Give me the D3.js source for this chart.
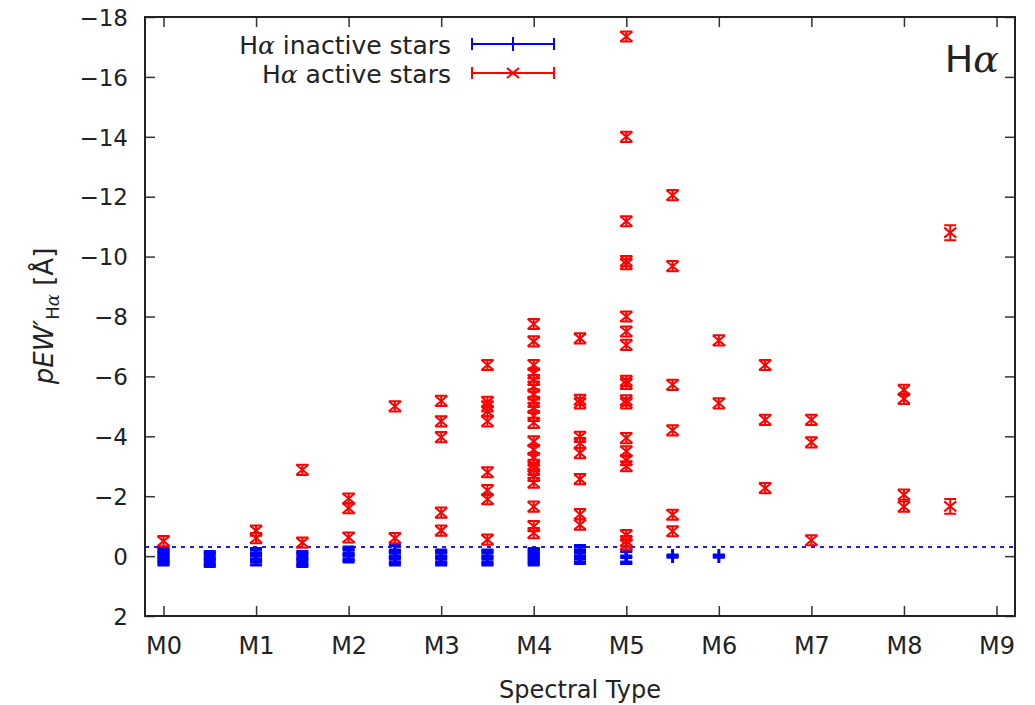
<!DOCTYPE html>
<html>
<head>
<meta charset="utf-8">
<script src="https://cdn.jsdelivr.net/npm/d3@7"></script>
<style>
	body { margin: 0; background: #fff; }
	text { font-family: "DejaVu Sans", sans-serif; fill: #222; }
	.greek { font-family: "DejaVu Serif", serif; font-style: italic; }
</style>
</head>
<body>
<svg id="chart" width="1035" height="705"></svg>
<script>
// spectral type axis labels (index = subtype number)
var spectralTicks = ["M0", "M1", "M2", "M3", "M4", "M5", "M6", "M7", "M8", "M9"];
var yTickValues = [-18, -16, -14, -12, -10, -8, -6, -4, -2, 0, 2];

// H-alpha active stars: one column per spectral subtype
var activeSpT = [0, 1, 1.5, 2, 2.5, 3, 3.5, 4, 4.5, 5, 5.5, 6, 6.5, 7, 8, 8.5];
var activeEW = [
	[-0.5],
	[-0.85, -0.6],
	[-2.88, -0.45],
	[-1.92, -1.6, -0.62],
	[-5.0, -0.6],
	[-5.18, -4.5, -3.97, -1.45, -0.85],
	[-6.38, -5.15, -5.0, -4.83, -4.5, -2.8, -2.2, -1.9, -0.55],
	[-7.75, -7.17, -6.38, -6.1, -5.88, -5.66, -5.4, -5.15, -4.95, -4.68, -4.45,
		-3.83, -3.55, -3.28, -3.05, -2.88, -2.68, -2.45, -1.65, -1.0, -0.77],
	[-7.27, -5.22, -5.1, -3.98, -3.77, -3.44, -2.57, -1.4, -1.05],
	[-17.35, -14.0, -11.18, -9.85, -9.75, -8.0, -7.5, -7.05, -5.85, -5.75, -5.2, -5.1,
		-3.94, -3.5, -3.2, -3.0, -0.7, -0.5, -0.38],
	[-12.05, -9.68, -5.72, -4.2, -1.38, -0.83],
	[-7.2, -5.1],
	[-6.38, -4.55, -2.27],
	[-4.55, -3.8, -0.53],
	[-5.55, -5.25, -2.05, -1.65],
	[-10.8, -1.66]
];
var activeErr = [0.17, 0.17, 0.17, 0.17, 0.17, 0.17, 0.17, 0.17, 0.17, 0.17, 0.17, 0.17, 0.17, 0.17, 0.17, 0.25];

// H-alpha inactive stars
var inactiveSpT = [0, 0.5, 1, 1.5, 2, 2.5, 3, 3.5, 4, 4.5, 5, 5.5, 6];
var inactiveEW = [
	[0.05, -0.05, 0.1, 0.0],
	[0.1, 0.05, 0.15],
	[0.0, -0.05, 0.1],
	[0.1, 0.05, 0.15],
	[-0.05, -0.1, 0.0],
	[-0.15, 0.0, 0.1, 0.05],
	[0.05, 0.1, 0.0],
	[0.0, 0.1, 0.05],
	[0.0, 0.05, 0.1, -0.05],
	[-0.1, -0.15, 0.0, 0.05],
	[0.0, 0.05],
	[0.0],
	[0.0]
];
var inactiveErr = [0.2, 0.2, 0.2, 0.2, 0.2, 0.2, 0.2, 0.2, 0.2, 0.2, 0.2, 0.04, 0.04];

var activityThreshold = -0.3;

var svg = d3.select("#chart");
var plotLeft = 145, plotRight = 1015, plotTop = 17, plotBottom = 616;

var x = d3.scaleLinear().domain([-0.2, 9.2]).range([plotLeft, plotRight]);
var y = d3.scaleLinear().domain([-18, 2]).range([plotTop, plotBottom]);

function flatten(spt, ew, err) {
	var out = [];
	spt.forEach(function(s, i) {
		ew[i].forEach(function(v) {
			out.push({ spt: s, ew: v, err: err[i] });
		});
	});
	return out;
}

var activePoints = flatten(activeSpT, activeEW, activeErr);
var inactivePoints = flatten(inactiveSpT, inactiveEW, inactiveErr);

// Axes - ticks pointing inward, mirrored on top / right
var tickIdx = d3.range(spectralTicks.length);

var gBottom = svg.append("g")
	.attr("transform", "translate(0," + plotBottom + ")")
	.call(d3.axisBottom(x).tickValues(tickIdx).tickSize(-10).tickFormat(function(d) { return spectralTicks[d]; }));
gBottom.selectAll("text").attr("y", 38).attr("dy", 0).style("font-size", "24px");

svg.append("g")
	.attr("transform", "translate(0," + plotTop + ")")
	.call(d3.axisTop(x).tickValues(tickIdx).tickSize(-10).tickFormat(""));

var gLeft = svg.append("g")
	.attr("transform", "translate(" + plotLeft + ",0)")
	.call(d3.axisLeft(y).tickValues(yTickValues).tickSize(-10).tickFormat(d3.format("d")));
gLeft.selectAll("text").attr("x", -17).attr("dy", "0.36em").style("font-size", "23px");

svg.append("g")
	.attr("transform", "translate(" + plotRight + ",0)")
	.call(d3.axisRight(y).tickValues(yTickValues).tickSize(-10).tickFormat(""));

svg.selectAll(".domain").remove();
svg.selectAll(".tick line").attr("stroke", "#333").attr("stroke-width", 1.5);
svg.selectAll(".tick text").attr("fill", "#222").style("font-family", "DejaVu Sans, sans-serif");

// threshold line
svg.append("line")
	.attr("x1", plotLeft).attr("x2", plotRight)
	.attr("y1", y(activityThreshold)).attr("y2", y(activityThreshold))
	.attr("stroke", "#1f1fe0")
	.attr("stroke-width", 2)
	.attr("stroke-dasharray", "4,5");

// error bar with caps, drawn in a group positioned at the point
function errorBar(g, color, width) {
	g.append("line")
		.attr("x1", 0).attr("x2", 0)
		.attr("y1", function(d) { return y(d.ew - d.err) - y(d.ew); })
		.attr("y2", function(d) { return y(d.ew + d.err) - y(d.ew); })
		.attr("stroke", color).attr("stroke-width", width);
	g.append("path")
		.attr("d", function(d) {
			var a = y(d.ew - d.err) - y(d.ew), b = y(d.ew + d.err) - y(d.ew);
			return "M-6," + a + "H6M-6," + b + "H6";
		})
		.attr("stroke", color).attr("stroke-width", width).attr("fill", "none");
}

// inactive stars (blue +)
var inact = svg.append("g").attr("class", "inactive")
	.selectAll("g")
	.data(inactivePoints)
	.enter()
	.append("g")
	.attr("transform", function(d) { return "translate(" + x(d.spt) + "," + y(d.ew) + ")"; });
errorBar(inact, "#0000ff", 3);
inact.append("path")
	.attr("d", "M-6,0H6M0,-7V7")
	.attr("stroke", "#0000ff").attr("stroke-width", 3);

// active stars (red x)
var act = svg.append("g").attr("class", "active")
	.selectAll("g")
	.data(activePoints)
	.enter()
	.append("g")
	.attr("transform", function(d) { return "translate(" + x(d.spt) + "," + y(d.ew) + ")"; });
errorBar(act, "#ff0000", 2);
act.append("path")
	.attr("d", "M-6,-5L6,5M-6,5L6,-5")
	.attr("stroke", "#ff0000").attr("stroke-width", 2);

// frame
svg.append("rect")
	.attr("x", plotLeft).attr("y", plotTop)
	.attr("width", plotRight - plotLeft).attr("height", plotBottom - plotTop)
	.attr("fill", "none").attr("stroke", "#222").attr("stroke-width", 2);

// legend
var legendRows = [
	{ label: " inactive stars", color: "#0000ff", marker: "M0,-7V7", y: 44 },
	{ label: " active stars", color: "#ff0000", marker: "M-6,-5L6,5M-6,5L6,-5", y: 73 }
];
var leg = svg.append("g").selectAll("g")
	.data(legendRows)
	.enter()
	.append("g");
var lt = leg.append("text")
	.attr("x", 451)
	.attr("y", function(d) { return d.y + 10; })
	.attr("text-anchor", "end")
	.style("font-size", "25px");
lt.append("tspan").text("H");
lt.append("tspan").attr("class", "greek").text("α");
lt.append("tspan").text(function(d) { return d.label; });
leg.append("path")
	.attr("d", function(d) { return "M472," + d.y + "H554M472," + (d.y - 6) + "V" + (d.y + 6) + "M554," + (d.y - 6) + "V" + (d.y + 6); })
	.attr("stroke", function(d) { return d.color; })
	.attr("stroke-width", 2).attr("fill", "none");
leg.append("path")
	.attr("transform", function(d) { return "translate(513," + d.y + ")"; })
	.attr("d", function(d) { return d.marker; })
	.attr("stroke", function(d) { return d.color; })
	.attr("stroke-width", 2).attr("fill", "none");

// panel label
var pl = svg.append("text")
	.attr("x", 999).attr("y", 72)
	.attr("text-anchor", "end")
	.style("font-size", "38px");
pl.append("tspan").text("H");
pl.append("tspan").attr("class", "greek").text("α");

// axis titles
svg.append("text")
	.attr("x", (plotLeft + plotRight) / 2).attr("y", 698)
	.attr("text-anchor", "middle")
	.style("font-size", "24px")
	.text("Spectral Type");

var yl = svg.append("text")
	.attr("transform", "translate(53,316) rotate(-90)")
	.attr("text-anchor", "middle")
	.style("font-size", "26px");
yl.append("tspan").style("font-style", "italic").text("pEW′");
yl.append("tspan").attr("dy", 6).style("font-size", "18px").text("H");
yl.append("tspan").attr("class", "greek").style("font-size", "18px").text("α");
yl.append("tspan").attr("dy", -6).text(" [Å]");
</script>
</body>
</html>
